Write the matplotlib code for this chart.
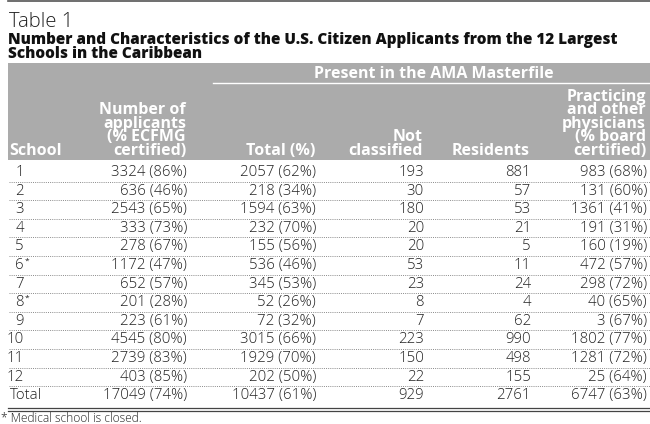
import matplotlib.pyplot as plt

# Table values
schools = ['1', '2', '3', '4', '5', '6', '7', '8', '9', '10', '11', '12', 'Total']
closed = ['6', '8']
applicants = [3324, 636, 2543, 333, 278, 1172, 652, 201, 223, 4545, 2739, 403, 17049]
ecfmg_pct = [86, 46, 65, 73, 67, 47, 57, 28, 61, 80, 83, 85, 74]
total = [2057, 218, 1594, 232, 155, 536, 345, 52, 72, 3015, 1929, 202, 10437]
total_pct = [62, 34, 63, 70, 56, 46, 53, 26, 32, 66, 70, 50, 61]
not_classified = [193, 30, 180, 20, 20, 53, 23, 8, 7, 223, 150, 22, 929]
residents = [881, 57, 53, 21, 5, 11, 24, 4, 62, 990, 498, 155, 2761]
practicing = [983, 131, 1361, 191, 160, 472, 298, 40, 3, 1802, 1281, 25, 6747]
board_pct = [68, 60, 41, 31, 19, 57, 72, 65, 67, 77, 72, 64, 63]

headers = ['School', 'Number of\napplicants\n(% ECFMG\ncertified)', 'Total (%)',
           'Not\nclassified', 'Residents',
           'Practicing\nand other\nphysicians\n(% board\ncertified)']
title = 'Table 1'
subtitle = ('Number and Characteristics of the U.S. Citizen Applicants from the 12 Largest\n'
            'Schools in the Caribbean')
group_label = 'Present in the AMA Masterfile'
footnote = '* Medical school is closed.'

plt.rcParams['font.family'] = ['Open Sans', 'DejaVu Sans']

fig = plt.figure(figsize=(6.5, 4.24), dpi=100)
ax = fig.add_axes([0, 0, 1, 1])
ax.set_xlim(0, 650)
ax.set_ylim(424, 0)
ax.axis('off')

# column right edges (pixels)
col_right = [24, 187, 316, 424, 531, 647]
body_kw = dict(fontsize=10.8, fontweight='light', va='baseline', color='#222222')
head_kw = dict(fontsize=11.5, fontweight='bold', va='baseline', color='white',
               linespacing=0.8)

ax.plot([8, 650], [0.6, 0.6], color='#555555', lw=1.2)
ax.text(9, 27, title, fontsize=14.6, fontweight='light', va='baseline', color='#222222')
ax.text(8, 58, subtitle, fontsize=11, fontweight='heavy', va='baseline', color='#111111',
        linespacing=0.8)

# header box
ax.add_patch(plt.Rectangle((8, 63), 650 - 8, 97, color='#ababab', lw=0))
ax.text(434, 78, group_label, ha='center', **head_kw)
ax.plot([213, 650], [82.5, 82.5], color='white', lw=1)

for j, h in enumerate(headers):
    if j == 0:
        ax.text(9, 155, h, **head_kw)
    else:
        ax.text(col_right[j] - 1, 155, h, ha='right', multialignment='right', **head_kw)

# body rows
step = 18.6
for i, s in enumerate(schools):
    y = 176 + i * step
    if s == 'Total':
        ax.text(10, y, s, **body_kw)
    else:
        ax.text(col_right[0], y, s, ha='right', **body_kw)
        if s in closed:
            ax.text(col_right[0] + 0.5, y - 6, '*', fontsize=6, va='baseline', color='#222222')
    cells = [f'{applicants[i]} ({ecfmg_pct[i]}%)', f'{total[i]} ({total_pct[i]}%)',
             f'{not_classified[i]}', f'{residents[i]}', f'{practicing[i]} ({board_pct[i]}%)']
    for j, c in enumerate(cells):
        ax.text(col_right[j + 1], y, c, ha='right', **body_kw)
    if i < len(schools) - 1:
        ax.plot([9, 650], [y + 5.5, y + 5.5], color='#8a8a8a', lw=0.7, ls=(0, (1, 1.2)))

ax.plot([8, 650], [407.8, 407.8], color='#444444', lw=0.9)
ax.plot([8, 650], [410.8, 410.8], color='#444444', lw=0.9)
ax.text(1, 422, footnote, fontsize=8.6, fontweight='light', va='baseline', color='#222222')

fig.savefig('out.png', dpi=100)
